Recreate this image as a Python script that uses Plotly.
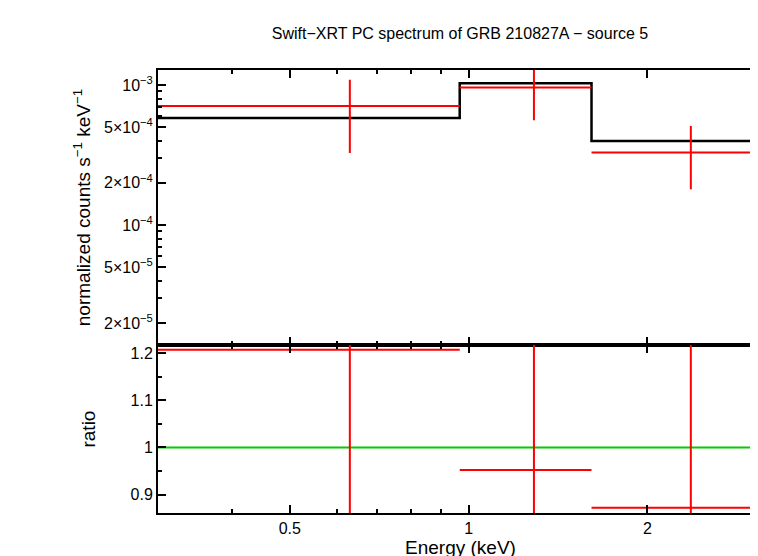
import plotly.graph_objects as go
from plotly.subplots import make_subplots

edges = [0.3, 0.966, 1.61, 3.13]
centers = [0.631, 1.288, 2.366]
model = [5.81e-4, 1.03e-3, 3.98e-4]
data = [7.08e-4, 9.6e-4, 3.3e-4]
data_lo = [3.27e-4, 5.6e-4, 1.8e-4]
data_hi = [1.09e-3, 1.5e-3, 5.1e-4]
ratio = [1.207, 0.952, 0.872]
ratio_lo = [0.7, 0.7, 0.7]
ratio_hi = [1.4, 1.4, 1.4]

ytick_vals = [1e-3, 5e-4, 2e-4, 1e-4, 5e-5, 2e-5]
ytick_text = ["10<sup>−3</sup>", "5×10<sup>−4</sup>", "2×10<sup>−4</sup>",
              "10<sup>−4</sup>", "5×10<sup>−5</sup>", "2×10<sup>−5</sup>"]
xtick_vals = [0.5, 1, 2]
xtick_text = ["0.5", "1", "2"]

fig = make_subplots(rows=2, cols=1, shared_xaxes=True, vertical_spacing=0,
                    row_heights=[0.621, 0.379])

mx = [edges[0], edges[1], edges[2], edges[3]]
my = model + [model[-1]]
fig.add_trace(go.Scatter(x=mx, y=my, mode="lines", line=dict(color="black", width=2.5, shape="hv")), 1, 1)

xerr_p = [edges[i+1] - centers[i] for i in range(3)]
xerr_m = [centers[i] - edges[i] for i in range(3)]
fig.add_trace(go.Scatter(x=centers, y=data, mode="lines", line=dict(width=0),
    error_x=dict(type="data", symmetric=False, array=xerr_p, arrayminus=xerr_m, color="red", thickness=2, width=0),
    error_y=dict(type="data", symmetric=False, array=[h-d for h, d in zip(data_hi, data)],
                 arrayminus=[d-l for d, l in zip(data, data_lo)], color="red", thickness=2, width=0)), 1, 1)

fig.add_trace(go.Scatter(x=[0.3, 3.13], y=[1, 1], mode="lines", line=dict(color="#00cc00", width=2)), 2, 1)
fig.add_trace(go.Scatter(x=centers, y=ratio, mode="lines", line=dict(width=0),
    error_x=dict(type="data", symmetric=False, array=xerr_p, arrayminus=xerr_m, color="red", thickness=2, width=0),
    error_y=dict(type="data", symmetric=False, array=[h-r for h, r in zip(ratio_hi, ratio)],
                 arrayminus=[r-l for r, l in zip(ratio, ratio_lo)], color="red", thickness=2, width=0)), 2, 1)

ax = dict(showline=True, linecolor="black", linewidth=2, mirror="ticks", ticks="inside",
          showgrid=False, zeroline=False, tickcolor="black", ticklen=8, tickwidth=1.5,
          automargin=False)
fig.update_xaxes(type="log", range=[-0.5229, 0.4955], tickvals=xtick_vals, ticktext=xtick_text,
                 minor=dict(ticks="inside", ticklen=4, tickcolor="black",
                            tickvals=[0.3, 0.4, 0.6, 0.7, 0.8, 0.9, 3]), **ax)
fig.update_xaxes(showticklabels=False, row=1, col=1)
fig.update_xaxes(title_text="Energy (keV)", title_standoff=0, row=2, col=1)
fig.update_yaxes(type="log", range=[-4.857, -2.893], tickvals=ytick_vals, ticktext=ytick_text,
                 minor=dict(ticks="inside", ticklen=4, tickcolor="black",
                            tickvals=[3e-5, 4e-5, 6e-5, 7e-5, 8e-5, 9e-5, 3e-4, 4e-4, 6e-4, 7e-4, 8e-4, 9e-4]),
                 title_text="normalized counts s<sup>−1</sup> keV<sup>−1</sup>", title_standoff=8,
                 row=1, col=1, **ax)
fig.update_yaxes(range=[0.861, 1.217], tickvals=[0.9, 1, 1.1, 1.2], ticktext=["0.9", "1", "1.1", "1.2"],
                 minor=dict(ticks="inside", ticklen=4, tickcolor="black", dtick=0.05),
                 title_text="ratio", title_standoff=30, row=2, col=1, **ax)

fig.update_layout(width=758, height=556, margin=dict(l=150, r=3, t=62, b=51),
                  plot_bgcolor="white", paper_bgcolor="white", showlegend=False,
                  font=dict(family="Liberation Sans", size=16, color="black"),
                  title=dict(text="Swift−XRT PC spectrum of GRB 210827A − source 5",
                             x=452/758, y=0.965, xanchor="center", automargin=False,
                             font=dict(size=16)))
fig.write_html("out.html")
